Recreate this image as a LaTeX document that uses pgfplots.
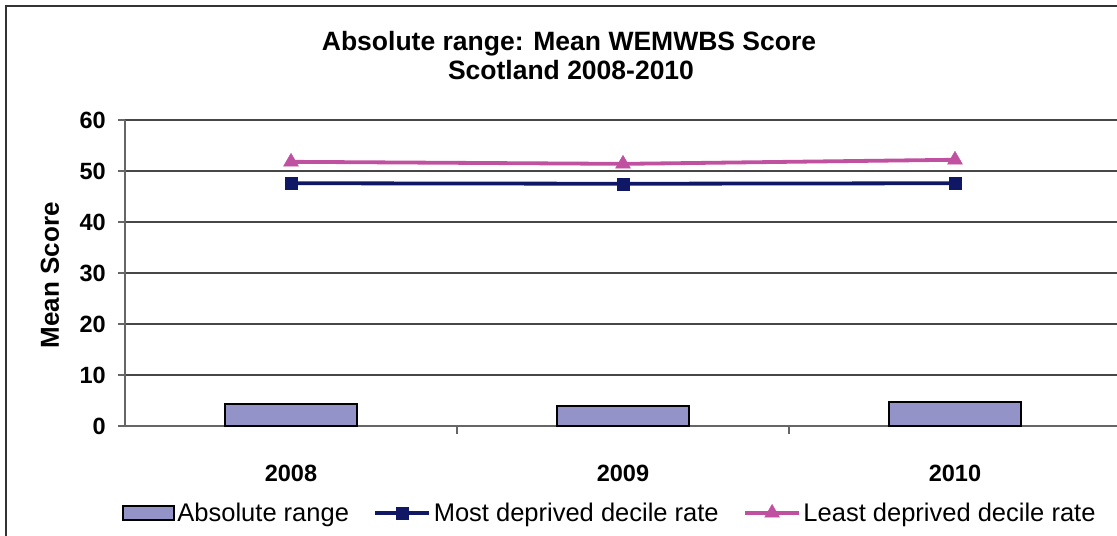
\documentclass[border=0pt]{standalone}
\usepackage{fontspec}
\setmainfont{Liberation Sans}
\usepackage{pgfplots}
\pgfplotsset{compat=1.18}
\definecolor{barfill}{RGB}{147,147,199}
\definecolor{navyline}{RGB}{16,24,102}
\definecolor{magline}{RGB}{192,80,160}
\pgfplotsset{
  barleg/.style={legend image code/.code={\draw[##1] (0bp,-7bp) rectangle (51bp,7bp);}},
  lineleg/.style={legend image code/.code={\draw[##1, mark repeat=2, mark phase=2] plot coordinates {(0bp,0bp) (27bp,0bp) (54bp,0bp)};}},
}
\begin{document}
\begin{tikzpicture}
\path[use as bounding box] (0,0) rectangle (1117bp,536bp);
\draw[line width=2bp, black!80] (6bp,0) -- (6bp,529.5bp) -- (1117bp,529.5bp);
\begin{axis}[
  at={(125bp,110bp)}, anchor=south west, scale only axis,
  width=992bp, height=306bp,
  xmin=-0.5, xmax=2.488, ymin=0, ymax=60,
  axis x line=bottom, axis y line=left,
  axis line style={-, draw=black!60, line width=1.3bp},
  xtick={0,1,2}, xticklabels={2008,2009,2010},
  minor xtick={0.5,1.5},
  ytick={0,10,20,30,40,50,60},
  tick align=outside,
  major tick length=7bp, minor tick length=8bp,
  major x tick style={draw=none},
  minor x tick style={draw=black!60, line width=1.3bp},
  ytick style={draw=black!60, line width=1.3bp},
  ymajorgrids, major grid style={draw=black!72, line width=1.1bp},
  /pgf/number format/assume math mode=true,
  yticklabel style={font=\bfseries\fontsize{23.5bp}{23.5bp}\selectfont, anchor=east, inner sep=0pt, xshift=-12bp},
  xticklabel style={font=\bfseries\fontsize{23.5bp}{23.5bp}\selectfont, anchor=north, inner sep=0pt, yshift=-32bp},
  ylabel={Mean Score},
  ylabel style={font=\bfseries\fontsize{26bp}{26bp}\selectfont, at={(axis description cs:-0.0756,0.493)}, anchor=center, rotate=0},
  legend style={at={(axis description cs:0.489,-0.284)}, anchor=center, draw=none, fill=none,
    legend columns=3, font=\fontsize{25.5bp}{25.5bp}\selectfont,
    nodes={inner sep=2.5bp},
    /tikz/every even column/.append style={column sep=22bp}},
  legend cell align=left,
  clip=false,
]
\addplot[ybar, bar width=132bp, bar shift=0pt, fill=barfill, draw=black, line width=1.8bp, barleg]
  coordinates {(0,4.3) (1,3.9) (2,4.7)};
\addlegendentry{Absolute range}
\addplot[navyline, line width=3.8bp, mark=square*, mark size=6bp, mark options={solid, line width=0.5bp}, lineleg]
  coordinates {(0,47.6) (1,47.5) (2,47.6)};
\addlegendentry{Most deprived decile rate}
\addplot[magline, line width=3.8bp, mark=triangle*, mark size=8.5bp, mark options={solid, line width=0.5bp}, lineleg]
  coordinates {(0,51.8) (1,51.4) (2,52.2)};
\addlegendentry{Least deprived decile rate}
\end{axis}
\node[anchor=base, font=\bfseries\fontsize{26.5bp}{26.5bp}\selectfont, inner sep=0pt] at (569bp,485bp) {Absolute range: Mean WEMWBS Score};
\node[anchor=base, font=\bfseries\fontsize{26.5bp}{26.5bp}\selectfont, inner sep=0pt] at (571bp,456.7bp) {Scotland 2008-2010};
\end{tikzpicture}
\end{document}
